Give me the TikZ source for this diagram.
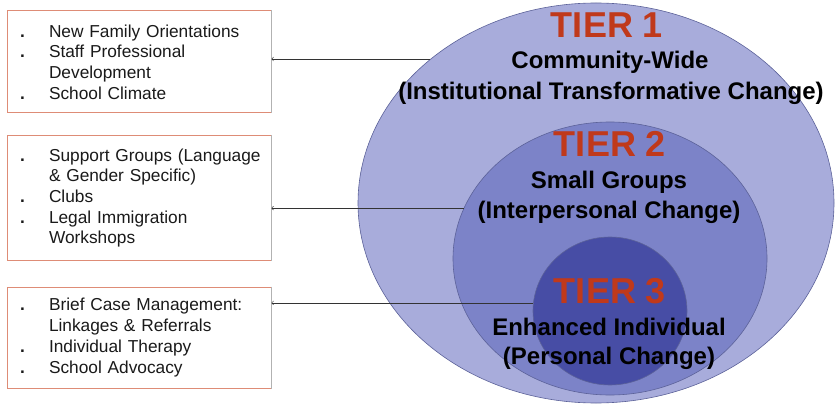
\documentclass[tikz,border=0pt]{standalone}
\usepackage{fontspec}
\setmainfont{Liberation Sans}
\usetikzlibrary{shapes.geometric}
\definecolor{ringone}{HTML}{A8ACDB}
\definecolor{ringtwo}{HTML}{7C83C8}
\definecolor{ringthree}{HTML}{474DA5}
\definecolor{ringline}{HTML}{5C6299}
\definecolor{tierred}{HTML}{C0391B}
\definecolor{boxline}{HTML}{DE8C76}
\definecolor{boxtext}{HTML}{1A1A1A}
\newcommand{\itm}[1]{\hspace*{6pt}\makebox[29pt][l]{\textbf{.}}#1}
\newcommand{\cnt}[1]{\hspace*{35pt}#1}
\tikzset{
  tier/.style={ellipse, inner sep=0pt, draw=ringline, line width=0.6pt},
  tiernum/.style={anchor=base, inner sep=0pt, text=tierred,
    font=\fontsize{36}{40}\selectfont\bfseries},
  tiersub/.style={anchor=base, inner sep=0pt,
    font=\fontsize{24}{28}\selectfont\bfseries},
  listbox/.style={draw=boxline, line width=1pt, fill=white,
    minimum width=264pt, text width=250pt, inner xsep=7pt, align=left,
    text=boxtext, font=\fontsize{17.3}{20.7}\selectfont},
  boxedge/.style={draw=black!30, line width=1pt},
  link/.style={<-, line width=0.6pt, draw=black!80}
}
\begin{document}
\begin{tikzpicture}[x=1pt,y=-1pt]
        \useasboundingbox (0,0) rectangle (837,406);

        % the three tiers
        \node (T1) [tier, fill=ringone, minimum width=476pt, minimum height=400pt] at (596,203) {};
        \node (T2) [tier, fill=ringtwo, minimum width=314pt, minimum height=273pt] at (610,258.5) {};
        \node (T3) [tier, fill=ringthree, minimum width=154pt, minimum height=148pt] at (610,311) {};

        \node (N1) [tiernum] at (607,38) {TIER 1};
        \node (S1a) [tiersub] at (610,69) {Community-Wide};
        \node (S1b) [tiersub] at (611,100) {(Institutional Transformative Change)};

        \node (N2) [tiernum] at (610,157) {TIER 2};
        \node (S2a) [tiersub] at (609,188) {Small Groups};
        \node (S2b) [tiersub] at (609,218) {(Interpersonal Change)};

        \node (N3) [tiernum] at (610,303) {TIER 3};
        \node (S3a) [tiersub] at (609,335) {Enhanced Individual};
        \node (S3b) [tiersub] at (609,364) {(Personal Change)};

        % services boxes
        \node (B1) [listbox, minimum height=102pt] at (139,62) {%
                \itm{New Family Orientations}\\
                \itm{Staff Professional}\\
                \cnt{Development}\\
                \itm{School Climate}};
        \node (B2) [listbox, minimum height=124pt] at (139,198) {%
                \itm{Support Groups (Language}\\
                \cnt{\& Gender Specific)}\\
                \itm{Clubs}\\
                \itm{Legal Immigration}\\
                \cnt{Workshops}};
        \node (B3) [listbox, minimum height=101pt] at (139,337.5) {%
                \itm{Brief Case Management:}\\
                \cnt{Linkages \& Referrals}\\
                \itm{Individual Therapy}\\
                \itm{School Advocacy}};

        \foreach \b in {B1,B2,B3}
                \draw[boxedge] (\b.north east) -- (\b.south east);

        \draw[link] (T1.139.4 -| B1.east) -- (T1.139.4);
        \draw[link] (T2.161 -| B2.east) -- (T2.161);
        \draw[link] (T3.174.1 -| B3.east) -- (T3.174.1);
    \end{tikzpicture}
\end{document}
